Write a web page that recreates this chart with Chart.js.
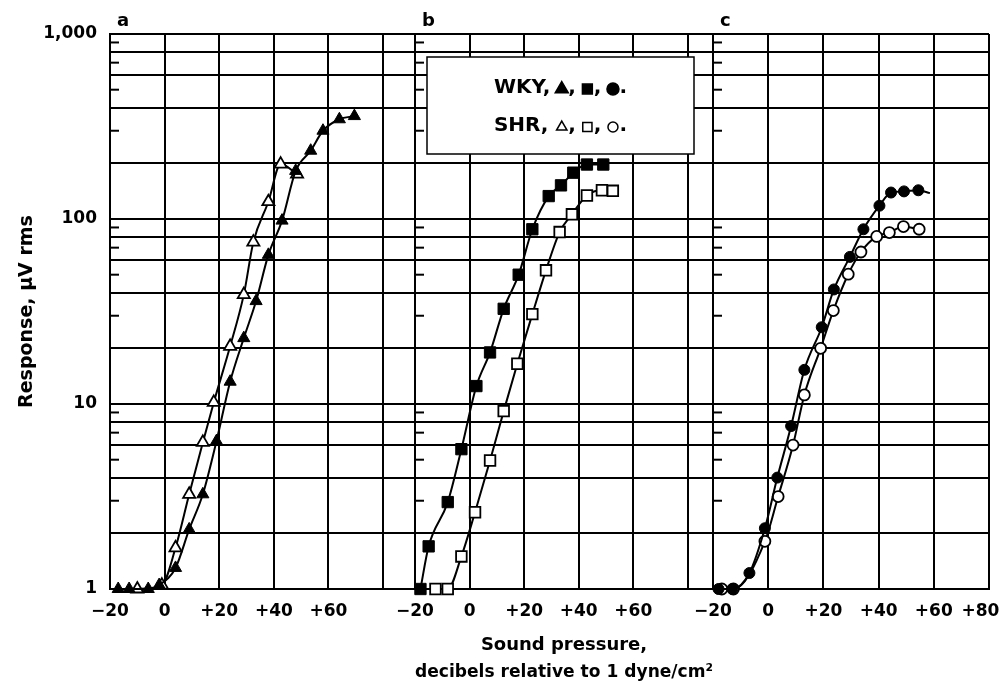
<!DOCTYPE html>
<html>
<head>
<meta charset="utf-8">
<title>Response vs sound pressure, WKY and SHR</title>
<script src="https://cdn.jsdelivr.net/npm/chart.js@4.4.1/dist/chart.umd.min.js"></script>
<style>
  body { margin: 0; background: #fff; }
  canvas.panel { position: absolute; left: 0; top: 0; }
</style>
</head>
<body>
<canvas id="chart-a" class="panel" width="1005" height="683"></canvas>
<canvas id="chart-b" class="panel" width="1005" height="683"></canvas>
<canvas id="chart-c" class="panel" width="1005" height="683"></canvas>
<script>
// panel a, triangles
const aWkyDb   = [-17, -13, -6, -2, 4, 9, 14, 19, 24, 29, 33.5, 38, 43, 48, 53.5, 58, 64, 69.5];
const aWkyResp = [1.0, 1.0, 1.0, 1.05, 1.3, 2.1, 3.25, 6.3, 13.2, 22.7, 36, 64, 98, 182, 234, 300, 346, 360];
const aShrDb   = [-10, -1, 4, 9, 14, 18, 24, 29, 32.5, 38, 42.5, 48.5];
const aShrResp = [1.0, 1.05, 1.67, 3.25, 6.2, 10.2, 20.5, 39, 75, 124, 198, 175];

// panel b, squares
const bWkyDb   = [-18, -15, -8, -3, 2.5, 7.5, 12.5, 18, 23, 29, 33.5, 38, 43, 49];
const bWkyResp = [1.0, 1.7, 2.95, 5.7, 12.5, 19, 32.7, 50, 88, 133, 152, 178, 197, 197];
const bShrDb   = [-12.5, -8, -3, 2, 7.5, 12.5, 17.5, 23, 28, 33, 37.5, 43, 48.5, 52.5];
const bShrResp = [1.0, 1.0, 1.5, 2.6, 4.95, 9.15, 16.5, 30.6, 52.8, 85, 106, 134, 143, 142];

// panel c, circles (last WKY value is where the drawn curve ends, no marker)
const cWkyDb   = [-18, -13, -6.8, -1.2, 3.3, 8.3, 13.1, 19.4, 23.8, 29.6, 34.5, 40.3, 44.5, 49.2, 54.4, 58.6];
const cWkyResp = [1.0, 1.0, 1.22, 2.13, 4.0, 7.6, 15.3, 26, 41.6, 62.4, 88, 118, 139, 141, 143, 138];
const cShrDb   = [-16.8, -12.6, -1.2, 3.6, 9.0, 13.1, 19.0, 23.6, 29.0, 33.6, 39.3, 43.9, 49.0, 54.7];
const cShrResp = [1.0, 1.0, 1.81, 3.16, 6.0, 11.2, 20, 32, 50.3, 66.3, 80.5, 84.5, 91, 88];

// axes
const yGridVals  = [1, 2, 4, 6, 8, 10, 20, 40, 60, 80, 100, 200, 400, 600, 800, 1000];
const yMinorVals = [3, 5, 7, 9, 30, 50, 70, 90, 300, 500, 700, 900];
const yTickLabels = { 1: '1', 10: '10', 100: '100', 1000: '1,000' };
const xGridVals   = [-20, 0, 20, 40, 60, 80];
const xLabelsAB   = ['−20', '0', '+20', '+40', '+60', ''];
const xLabelsC    = ['−20', '0', '+20', '+40', '+60', '+80\u2003'];  // em space keeps the last label inside the page

const FONT = 'DejaVu Sans';
Chart.defaults.font.family = FONT;
Chart.defaults.font.size = 17;
Chart.defaults.font.weight = 'bold';
Chart.defaults.color = '#000';

const toPoints = (xs, ys) => xs.map((x, i) => ({ x: x, y: ys[i] }));

// WKY / SHR key drawn inside panel b
function drawKey(ctx, ca) {
	const bx = ca.left + 12, by = ca.top + 23, bw = 267, bh = 97;
	ctx.fillStyle = '#fff';
	ctx.fillRect(bx, by, bw, bh);
	ctx.strokeStyle = '#000';
	ctx.lineWidth = 1.5;
	ctx.strokeRect(bx, by, bw, bh);

	const rows = [
		{ name: 'WKY,', fill: '#000', syms: [['triangle', 7.5], ['rect', 7], ['circle', 6]] },
		{ name: 'SHR,', fill: '#fff', syms: [['triangle', 6], ['rect', 6.5], ['circle', 5]] }
	];
	ctx.font = 'bold 20px "' + FONT + '"';
	ctx.textBaseline = 'middle';
	ctx.textAlign = 'left';
	const nameW = ctx.measureText('WKY,').width;
	const commaW = ctx.measureText(',').width;
	const symW = 13, gap = 5;
	const total = nameW + 3 * (gap + symW + commaW);
	const x0 = bx + (bw - total) / 2;

	rows.forEach((row, r) => {
		const cy = by + 31 + r * 38;
		ctx.fillStyle = '#000';
		ctx.fillText(row.name, x0, cy);
		let x = x0 + nameW;
		row.syms.forEach(([style, rad], i) => {
			x += gap;
			ctx.fillStyle = row.fill;
			ctx.strokeStyle = '#000';
			ctx.lineWidth = 1.5;
			Chart.helpers.drawPoint(ctx, { pointStyle: style, radius: rad, borderWidth: 1.5, rotation: 0 }, x + symW / 2, cy + 1);
			x += symW;
			ctx.fillStyle = '#000';
			ctx.fillText(i < 2 ? ',' : '.', x, cy);
			x += commaW;
		});
	});
}

const panelDecor = {
	id: 'panelDecor',
	beforeDatasetsDraw(chart) {
		const { ctx, chartArea: ca, scales: { y } } = chart;
		ctx.save();
		ctx.strokeStyle = '#000';
		ctx.lineWidth = 2;
		yMinorVals.forEach(v => {
			const py = y.getPixelForValue(v);
			ctx.beginPath();
			ctx.moveTo(ca.left, py);
			ctx.lineTo(ca.left + 9, py);
			ctx.stroke();
		});
		ctx.restore();
	},
	afterDatasetsDraw(chart, args, opts) {
		const { ctx, chartArea: ca } = chart;
		ctx.save();
		ctx.fillStyle = '#000';
		ctx.font = 'bold 18px "' + FONT + '"';
		ctx.textBaseline = 'middle';
		ctx.textAlign = 'left';
		ctx.fillText(opts.letter, ca.left + 7, ca.top - 13);
		if (opts.key) drawKey(ctx, ca);
		ctx.restore();
	}
};

const makePanel = (canvasId, p) => {
	const nMarked = p.wkyMarked || p.wkyDb.length;
	return new Chart(document.getElementById(canvasId), {
		type: 'line',
		data: {
			datasets: [
				{
					label: 'WKY',
					data: toPoints(p.wkyDb, p.wkyResp),
					borderColor: '#000',
					borderWidth: 2,
					pointStyle: p.style,
					pointRadius: c => c.dataIndex < nMarked ? p.rFilled : 0,
					pointBackgroundColor: '#000',
					pointBorderColor: '#000',
					pointBorderWidth: 1,
					cubicInterpolationMode: 'monotone',
					clip: false
				},
				{
					label: 'SHR',
					data: toPoints(p.shrDb, p.shrResp),
					borderColor: '#000',
					borderWidth: 2,
					pointStyle: p.style,
					pointRadius: p.rOpen,
					pointBackgroundColor: '#fff',
					pointBorderColor: '#000',
					pointBorderWidth: 1.8,
					cubicInterpolationMode: 'monotone',
					clip: false
				}
			]
		},
		options: {
			responsive: false,
			animation: false,
			events: [],
			layout: { padding: { left: p.padLeft, right: p.padRight, top: 34, bottom: 0 } },
			plugins: {
				legend: { display: false },
				tooltip: { enabled: false },
				panelDecor: { letter: p.letter, key: !!p.key }
			},
			scales: {
				x: {
					type: 'linear',
					min: -20,
					max: p.xMax,
					afterBuildTicks: s => { s.ticks = xGridVals.map(v => ({ value: v })); },
					afterFit: s => { s.height = 94; s.paddingLeft = 0; s.paddingRight = 0; },
					grid: { color: '#000', lineWidth: 2, drawTicks: false },
					border: { color: '#000', width: 2 },
					ticks: {
						autoSkip: false,
						maxRotation: 0,
						padding: 12,
						callback: v => p.xLabels[xGridVals.indexOf(v)]
					},
					title: {
						display: !!p.xTitle,
						text: p.xTitle || '',
						font: { size: 18, weight: 'bold', lineHeight: 1.5 },
						padding: { top: 0, bottom: -3 }
					}
				},
				y: {
					type: 'logarithmic',
					min: 1,
					max: 1000,
					afterBuildTicks: s => { s.ticks = yGridVals.map(v => ({ value: v })); },
					afterFit: s => { s.width = p.yWidth; s.paddingTop = 0; s.paddingBottom = 0; },
					grid: { color: '#000', lineWidth: 2, drawTicks: false },
					border: { color: '#000', width: 2 },
					ticks: {
						display: p.yWidth > 0,
						padding: 13,
						callback: v => yTickLabels[v] || ''
					},
					title: {
						display: p.yWidth > 0,
						text: 'Response, μV rms',
						font: { size: 19, weight: 'bold' },
						padding: { top: 16, bottom: 0 }
					}
				}
			}
		},
		plugins: [panelDecor]
	});
};

makePanel('chart-a', {
	letter: 'a', style: 'triangle', rFilled: 7, rOpen: 7,
	wkyDb: aWkyDb, wkyResp: aWkyResp, shrDb: aShrDb, shrResp: aShrResp,
	xMax: 91.7, xLabels: xLabelsAB, yWidth: 110, padLeft: 0, padRight: 590
});

makePanel('chart-b', {
	letter: 'b', style: 'rect', rFilled: 8, rOpen: 7.5, key: true,
	wkyDb: bWkyDb, wkyResp: bWkyResp, shrDb: bShrDb, shrResp: bShrResp,
	xMax: 89.2, xLabels: xLabelsAB, yWidth: 0, padLeft: 415, padRight: 292,
	xTitle: ['Sound pressure,', 'decibels relative to 1 dyne/cm²']
});

makePanel('chart-c', {
	letter: 'c', style: 'circle', rFilled: 5.5, rOpen: 5.5,
	wkyDb: cWkyDb, wkyResp: cWkyResp, wkyMarked: cWkyDb.length - 1, shrDb: cShrDb, shrResp: cShrResp,
	xMax: 80, xLabels: xLabelsC, yWidth: 0, padLeft: 713, padRight: 16
});
</script>
</body>
</html>
